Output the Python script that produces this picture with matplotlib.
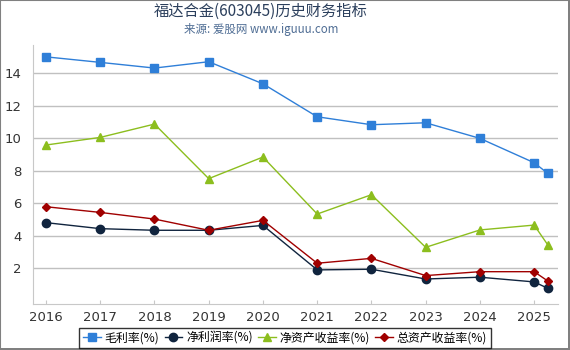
import matplotlib
matplotlib.use("Agg")
import matplotlib.pyplot as plt
from matplotlib.patches import Rectangle

plt.rcParams['font.family'] = ['DejaVu Sans', 'Noto Sans CJK SC']

years = [2016, 2017, 2018, 2019, 2020, 2021, 2022, 2023, 2024, 2025, 2025.25]
tick_years = [2016, 2017, 2018, 2019, 2020, 2021, 2022, 2023, 2024, 2025]
gross_margin = [15.02, 14.68, 14.33, 14.72, 13.36, 11.33, 10.84, 10.96, 10.00, 8.50, 7.85]
net_margin = [4.81, 4.44, 4.34, 4.34, 4.64, 1.90, 1.94, 1.34, 1.45, 1.16, 0.77]
roe = [9.59, 10.06, 10.88, 7.52, 8.85, 5.34, 6.53, 3.29, 4.36, 4.66, 3.45]
roa = [5.79, 5.44, 5.03, 4.34, 4.95, 2.31, 2.61, 1.55, 1.79, 1.79, 1.22]

series = [
    ('毛利率(%)', gross_margin, '#2f7fd8', 's', 5.5),
    ('净利润率(%)', net_margin, '#10243e', 'o', 6),
    ('净资产收益率(%)', roe, '#8cbe1e', '^', 5.5),
    ('总资产收益率(%)', roa, '#a00000', 'D', 4.5),
]

fig = plt.figure(figsize=(5.7, 3.5), dpi=100)
ax = fig.add_axes([33/570, 1-304/350, (558-33)/570, (304-45)/350])

for label, vals, color, marker, ms in series:
    ax.plot(years, vals, color=color, marker=marker, markersize=ms, linewidth=1.0,
            label=label, markeredgecolor=color)

ax.set_xlim(2015.76, 2025.44)
ax.set_ylim(-0.2, 15.75)
ax.set_xticks(tick_years)
ax.set_xticklabels([str(y) for y in tick_years])
ax.set_yticks([2, 4, 6, 8, 10, 12, 14])
ax.grid(axis='y', color='#c0c0c0', linewidth=1.0)
ax.set_axisbelow(True)
for s in ['top', 'right']:
    ax.spines[s].set_visible(False)
for s in ['left', 'bottom']:
    ax.spines[s].set_color('#c8c8c8')
ax.tick_params(axis='x', direction='in', length=3, color='#c8c8c8', labelsize=9.5,
               labelcolor='#333333', pad=5)
ax.tick_params(axis='y', length=0, labelsize=9.5, labelcolor='#333333', pad=8)

fig.text(261/570, 1-11.5/350, '福达合金(603045)历史财务指标', ha='center', va='center',
         fontsize=11, color='#2b3f5c', family=['Noto Sans CJK SC', 'DejaVu Sans'])
fig.text(261/570, 1-29/350, '来源: 爱股网 www.iguuu.com', ha='center', va='center',
         fontsize=8.3, color='#4f6d94', family=['Noto Sans CJK SC', 'DejaVu Sans'])

leg = fig.legend(loc='center', bbox_to_anchor=(285/570, 1-338/350), ncol=4,
                 frameon=True, fancybox=False, edgecolor='black',
                 handlelength=1.5, handletextpad=0.3, columnspacing=0.45,
                 borderpad=0.3, prop={'family': ['Noto Sans CJK SC', 'DejaVu Sans'], 'size': 8.6})
leg.get_frame().set_linewidth(1.0)

# figure border
fig.patches.append(Rectangle((0, 0), 1, 1, transform=fig.transFigure, fill=False,
                             edgecolor='#808080', linewidth=1.5))
fig.patches.append(Rectangle((0.9965, 0), 0.0035, 1, transform=fig.transFigure,
                             facecolor='#808080', edgecolor='none'))
fig.patches.append(Rectangle((0, 0), 1, 0.006, transform=fig.transFigure,
                             facecolor='#808080', edgecolor='none'))

fig.savefig('out.png', dpi=100)
